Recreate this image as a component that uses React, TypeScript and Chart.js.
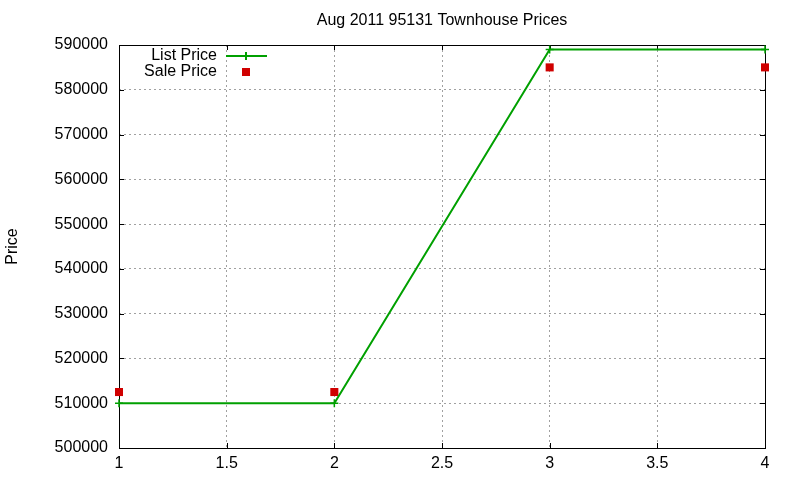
import { useEffect, useRef } from "react";
import { Chart, registerables } from "chart.js";

Chart.register(...registerables);

const positions = [1, 2, 3, 4];
const listPrices = [510000, 510000, 589000, 589000];
const salePrices = [512500, 512500, 585000, 585000];
const legendLabels = ["List Price", "Sale Price"];
const chartTitle = "Aug 2011 95131 Townhouse Prices";

const FONT = "'Liberation Sans', Arial, sans-serif";
const GREEN = "#00a000";
const RED = "#d00000";

// gnuplot-ish frame, inward tics, title and key inside the plot
const framePlugin = {
  id: "frame",
  beforeDatasetsDraw(chart: any) {
    const { ctx, chartArea: a, scales } = chart;
    ctx.save();
    ctx.strokeStyle = "#000";
    ctx.lineWidth = 1;
    ctx.strokeRect(Math.round(a.left) + 0.5, Math.round(a.top) + 0.5, Math.round(a.right - a.left), Math.round(a.bottom - a.top));
    ctx.beginPath();
    scales.x.ticks.forEach((t: any) => {
      const px = Math.round(scales.x.getPixelForValue(t.value)) + 0.5;
      ctx.moveTo(px, a.bottom);
      ctx.lineTo(px, a.bottom - 5);
      ctx.moveTo(px, a.top);
      ctx.lineTo(px, a.top + 5);
    });
    scales.y.ticks.forEach((t: any) => {
      const py = Math.round(scales.y.getPixelForValue(t.value)) + 0.5;
      ctx.moveTo(a.left, py);
      ctx.lineTo(a.left + 5, py);
      ctx.moveTo(a.right, py);
      ctx.lineTo(a.right - 5, py);
    });
    ctx.stroke();
    ctx.restore();
  },
  afterDraw(chart: any) {
    const { ctx, chartArea: a } = chart;
    ctx.save();
    ctx.font = `16px ${FONT}`;
    ctx.fillStyle = "#000";
    ctx.textBaseline = "middle";
    ctx.textAlign = "center";
    ctx.fillText(chartTitle, (a.left + a.right) / 2, 21);
    ctx.textAlign = "right";
    ctx.fillText(legendLabels[0], 217, 56);
    ctx.fillText(legendLabels[1], 217, 72);
    ctx.strokeStyle = GREEN;
    ctx.lineWidth = 2;
    ctx.beginPath();
    ctx.moveTo(226, 56);
    ctx.lineTo(267, 56);
    ctx.moveTo(246, 52);
    ctx.lineTo(246, 60);
    ctx.stroke();
    ctx.fillStyle = RED;
    ctx.fillRect(242, 68, 8, 8);
    ctx.restore();
  },
};

export default function App() {
  const canvasRef = useRef<HTMLCanvasElement>(null);
  const chartRef = useRef<Chart | null>(null);

  useEffect(() => {
    if (!canvasRef.current) return;
    if (chartRef.current) chartRef.current.destroy();

    chartRef.current = new Chart(canvasRef.current, {
      type: "line",
      data: {
        datasets: [
          {
            label: legendLabels[0],
            data: positions.map((x, i) => ({ x, y: listPrices[i] })),
            borderColor: GREEN,
            backgroundColor: GREEN,
            borderWidth: 2,
            pointStyle: "cross",
            pointRadius: 4,
            pointBorderWidth: 1.5,
            tension: 0,
            fill: false,
            clip: 6,
          },
          {
            label: legendLabels[1],
            data: positions.map((x, i) => ({ x, y: salePrices[i] })),
            showLine: false,
            borderColor: RED,
            backgroundColor: RED,
            pointStyle: "rect",
            pointRadius: 5.7,
            pointBorderWidth: 0,
            clip: 6,
          },
        ],
      },
      options: {
        animation: false,
        responsive: false,
        devicePixelRatio: 1,
        layout: { padding: { left: 0, right: 35, top: 45, bottom: 0 } },
        plugins: {
          legend: { display: false },
          tooltip: { enabled: false },
          title: { display: false },
        },
        scales: {
          x: {
            type: "linear",
            min: 1,
            max: 4,
            ticks: {
              stepSize: 0.5,
              color: "#000",
              font: { family: FONT, size: 16 },
              padding: 6,
              maxRotation: 0,
              callback: (v: any) => String(v),
            },
            grid: {
              color: "#a0a0a0",
              lineWidth: 1,
              tickLength: 0,
              drawTicks: false,
            },
            border: { display: false, dash: [2, 3] },
            afterFit: (s: any) => {
              s.height = 32;
            },
          },
          y: {
            min: 500000,
            max: 590000,
            ticks: {
              stepSize: 10000,
              color: "#000",
              font: { family: FONT, size: 16 },
              padding: 11,
              callback: (v: any) => String(v),
            },
            grid: {
              color: "#a0a0a0",
              lineWidth: 1,
              tickLength: 0,
              drawTicks: false,
            },
            border: { display: false, dash: [2, 3] },
            title: {
              display: true,
              text: "Price",
              color: "#000",
              font: { family: FONT, size: 16 },
              padding: { top: 3, bottom: 0 },
            },
            afterFit: (s: any) => {
              s.width = 119;
            },
          },
        },
      },
      plugins: [framePlugin],
    });

    return () => {
      if (chartRef.current) {
        chartRef.current.destroy();
        chartRef.current = null;
      }
    };
  }, []);

  return (
    <div style={{ position: "absolute", left: 0, top: 0, width: 800, height: 480, background: "#fff" }}>
      <canvas ref={canvasRef} width={800} height={480} style={{ width: 800, height: 480 }} />
    </div>
  );
}
